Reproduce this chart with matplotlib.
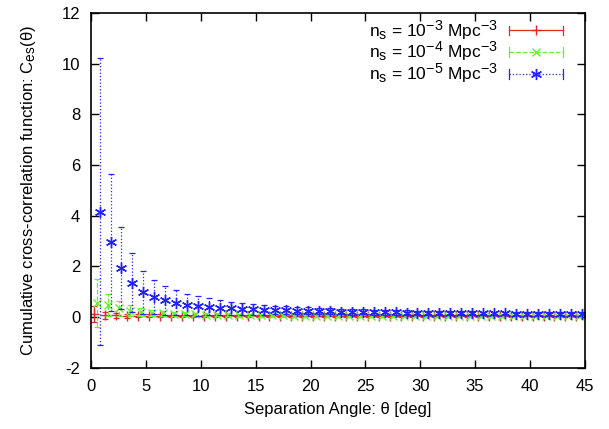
import numpy as np
import matplotlib
matplotlib.use('Agg')
import matplotlib.pyplot as plt
from matplotlib.lines import Line2D
from matplotlib.legend_handler import HandlerBase
from matplotlib import _mathtext

plt.rcParams['font.family'] = ['Liberation Sans', 'DejaVu Sans']
plt.rcParams['mathtext.fontset'] = 'custom'
plt.rcParams['mathtext.rm'] = 'Liberation Sans'
plt.rcParams['mathtext.it'] = 'Liberation Sans'
plt.rcParams['axes.unicode_minus'] = False
# gnuplot draws super/subscripts larger than mathtext does
if hasattr(_mathtext, 'SHRINK_FACTOR'):
    _mathtext.SHRINK_FACTOR = 0.82

# bins: 1 deg wide, the three series are offset a bit inside each bin
bins = np.arange(45)

red_val = [0.12, 0.07, 0.06, 0.05, 0.05, 0.04, 0.04, 0.04, 0.04, 0.03,
           0.03, 0.03, 0.03, 0.03, 0.03, 0.03, 0.03, 0.03, 0.03, 0.03,
           0.02, 0.02, 0.02, 0.02, 0.02, 0.02, 0.02, 0.02, 0.02, 0.02,
           0.02, 0.02, 0.02, 0.02, 0.02, 0.02, 0.02, 0.02, 0.02, 0.02,
           0.02, 0.02, 0.02, 0.02, 0.02]
red_err = [0.33, 0.14, 0.10, 0.08, 0.07, 0.06, 0.06, 0.05, 0.05, 0.05,
           0.05, 0.04, 0.04, 0.04, 0.04, 0.04, 0.04, 0.04, 0.04, 0.04,
           0.04, 0.04, 0.04, 0.04, 0.04, 0.04, 0.04, 0.04, 0.04, 0.04,
           0.04, 0.04, 0.04, 0.04, 0.04, 0.04, 0.04, 0.04, 0.04, 0.04,
           0.04, 0.04, 0.04, 0.04, 0.04]

green_val = [0.55, 0.47, 0.34, 0.25, 0.20, 0.16, 0.14, 0.12, 0.11, 0.10,
             0.09, 0.08, 0.08, 0.07, 0.07, 0.06, 0.06, 0.06, 0.05, 0.05,
             0.05, 0.05, 0.05, 0.04, 0.04, 0.04, 0.04, 0.04, 0.04, 0.04,
             0.03, 0.03, 0.03, 0.03, 0.03, 0.03, 0.03, 0.03, 0.03, 0.03,
             0.03, 0.03, 0.03, 0.03, 0.03]
green_err = [0.95, 0.44, 0.29, 0.21, 0.15, 0.12, 0.10, 0.09, 0.08, 0.07,
             0.07, 0.06, 0.06, 0.06, 0.05, 0.05, 0.05, 0.05, 0.05, 0.05,
             0.05, 0.05, 0.04, 0.04, 0.04, 0.04, 0.04, 0.04, 0.04, 0.04,
             0.04, 0.04, 0.04, 0.04, 0.04, 0.04, 0.04, 0.04, 0.04, 0.04,
             0.04, 0.04, 0.04, 0.04, 0.04]

blue_val = [4.15, 2.94, 1.95, 1.35, 0.98, 0.78, 0.65, 0.56, 0.49, 0.44,
            0.40, 0.37, 0.34, 0.32, 0.30, 0.28, 0.27, 0.26, 0.25, 0.24,
            0.23, 0.22, 0.21, 0.20, 0.20, 0.19, 0.18, 0.18, 0.17, 0.17,
            0.16, 0.16, 0.15, 0.15, 0.15, 0.14, 0.14, 0.14, 0.13, 0.13,
            0.13, 0.12, 0.12, 0.12, 0.12]
blue_err_up = [6.07, 2.69, 1.62, 1.17, 0.85, 0.68, 0.58, 0.49, 0.43, 0.40,
               0.33, 0.29, 0.26, 0.23, 0.21, 0.19, 0.17, 0.16, 0.15, 0.14,
               0.13, 0.12, 0.11, 0.11, 0.10, 0.10, 0.09, 0.09, 0.09, 0.08,
               0.08, 0.08, 0.08, 0.07, 0.07, 0.07, 0.07, 0.07, 0.07, 0.06,
               0.06, 0.06, 0.06, 0.06, 0.06]
blue_err_lo = [5.25] + blue_err_up[1:]

labels = [r'n$_\mathrm{s}$ = 10$^{\mathrm{-3}}$ Mpc$^{\mathrm{-3}}$',
          r'n$_\mathrm{s}$ = 10$^{\mathrm{-4}}$ Mpc$^{\mathrm{-3}}$',
          r'n$_\mathrm{s}$ = 10$^{\mathrm{-5}}$ Mpc$^{\mathrm{-3}}$']

c_red, c_green, c_blue = '#e02828', '#66f030', '#2222ff'
asterisk = (6, 2, 0)


class ErrbarHandler(HandlerBase):
    # gnuplot style key sample: |----o----|
    def create_artists(self, legend, orig_handle, xdescent, ydescent,
                       width, height, fontsize, trans):
        y = height / 2 - ydescent
        x0, x1 = -xdescent, width - xdescent
        c = orig_handle.get_color()
        ls = orig_handle.get_linestyle()
        lw = orig_handle.get_linewidth()
        h = 3.5
        arts = [Line2D([x0, x1], [y, y], color=c, ls=ls, lw=lw),
                Line2D([x0, x0], [y - h, y + h], color=c, lw=lw),
                Line2D([x1, x1], [y - h, y + h], color=c, lw=lw),
                Line2D([(x0 + x1) / 2], [y], color=c, ls='none',
                       marker=orig_handle.get_marker(),
                       markersize=orig_handle.get_markersize(),
                       markeredgewidth=orig_handle.get_markeredgewidth())]
        for a in arts:
            a.set_transform(trans)
        return arts


fig = plt.figure(figsize=(6.09, 4.29), dpi=100)
ax = fig.add_axes([0.150, 0.143, 0.810, 0.827])

series = [(bins + 0.25, red_val, red_err, c_red, '-', '+', 7),
          (bins + 0.5, green_val, green_err, c_green, '--', 'x', 6),
          (bins + 0.75, blue_val, [blue_err_lo, blue_err_up], c_blue, ':', asterisk, 8)]

handles = []
for x, v, e, c, ls, m, ms in series:
    cont = ax.errorbar(x, v, yerr=e, fmt='none', ecolor=c, elinewidth=0.9,
                       capsize=2.5, capthick=0.9)
    for bl in cont[2]:
        bl.set_linestyle(ls)
    ax.plot(x, v, ls='none', marker=m, color=c, markersize=ms,
            markeredgewidth=1.0)
    handles.append(Line2D([], [], color=c, ls=ls, lw=0.9, marker=m,
                          markersize=ms, markeredgewidth=1.0))

ax.set_xlim(0, 45)
ax.set_ylim(-2, 12)
ax.set_xticks(np.arange(0, 46, 5))
ax.set_yticks(np.arange(-2, 13, 2))
ax.tick_params(direction='in', top=True, right=True, length=6, width=1,
               labelsize=12, pad=8)
for s in ax.spines.values():
    s.set_linewidth(1.2)

ax.set_xlabel('Separation Angle: θ [deg]', fontsize=12, labelpad=6)
ax.set_ylabel(r'Cumulative cross-correlation function: C$_\mathrm{es}$(θ)',
              fontsize=12, labelpad=17)

ax.legend(handles, labels, loc='upper right', bbox_to_anchor=(0.956, 0.985),
          frameon=False, markerfirst=False, fontsize=12.5, handlelength=3.1,
          handletextpad=0.65, labelspacing=-0.1, borderpad=0, borderaxespad=0,
          handler_map={Line2D: ErrbarHandler()})

fig.savefig('out.png', dpi=100)
